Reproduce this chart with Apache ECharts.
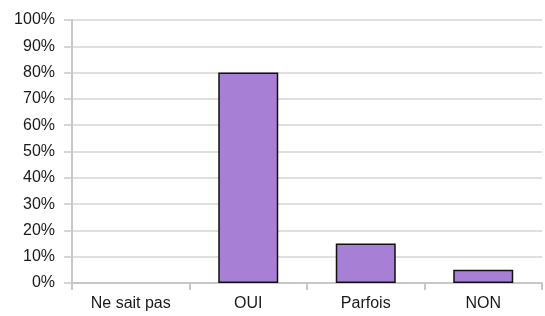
<!DOCTYPE html>
<html>
<head>
<meta charset="utf-8">
<script src="https://cdn.jsdelivr.net/npm/echarts@6/dist/echarts.min.js"></script>
<style>html,body{margin:0;padding:0;background:#fff;}#c{width:545px;height:316px;}</style>
</head>
<body>
<div id="c"></div>
<script>
const categories = ["Ne sait pas", "OUI", "Parfois", "NON"];
const values = [0, 80, 15, 5];
const yMin = 0, yMax = 100, yStep = 10;

const chart = echarts.init(document.getElementById('c'), null, {renderer: 'canvas'});
chart.setOption({
  animation: false,
  grid: {left: 72, right: 3, top: 20, bottom: 33, containLabel: false},
  xAxis: {
    type: 'category',
    data: categories,
    axisLine: {show: true, lineStyle: {color: '#c8c8c8', width: 2}},
    axisTick: {show: true, length: 7, lineStyle: {color: '#c8c8c8', width: 2}},
    axisLabel: {color: '#1a1a1a', fontSize: 16, fontFamily: 'Liberation Sans, Arial, sans-serif', margin: 13}
  },
  yAxis: {
    type: 'value',
    min: yMin, max: yMax, interval: yStep,
    axisLine: {show: true, lineStyle: {color: '#c8c8c8', width: 2}},
    axisTick: {show: true, length: 8, lineStyle: {color: '#c8c8c8', width: 1.5}},
    axisLabel: {color: '#1a1a1a', fontSize: 16, fontFamily: 'Liberation Sans, Arial, sans-serif', margin: 17, formatter: '{value}%'},
    splitLine: {show: true, lineStyle: {color: '#d4d4d4', width: 1.5}}
  },
  series: [{
    type: 'bar',
    data: values.map(v => ({value: v, itemStyle: v === 0 ? {borderWidth: 0} : {}})),
    barWidth: 60,
    itemStyle: {color: '#a77fd5', borderColor: '#111', borderWidth: 1.5}
  }]
});
</script>
</body>
</html>
